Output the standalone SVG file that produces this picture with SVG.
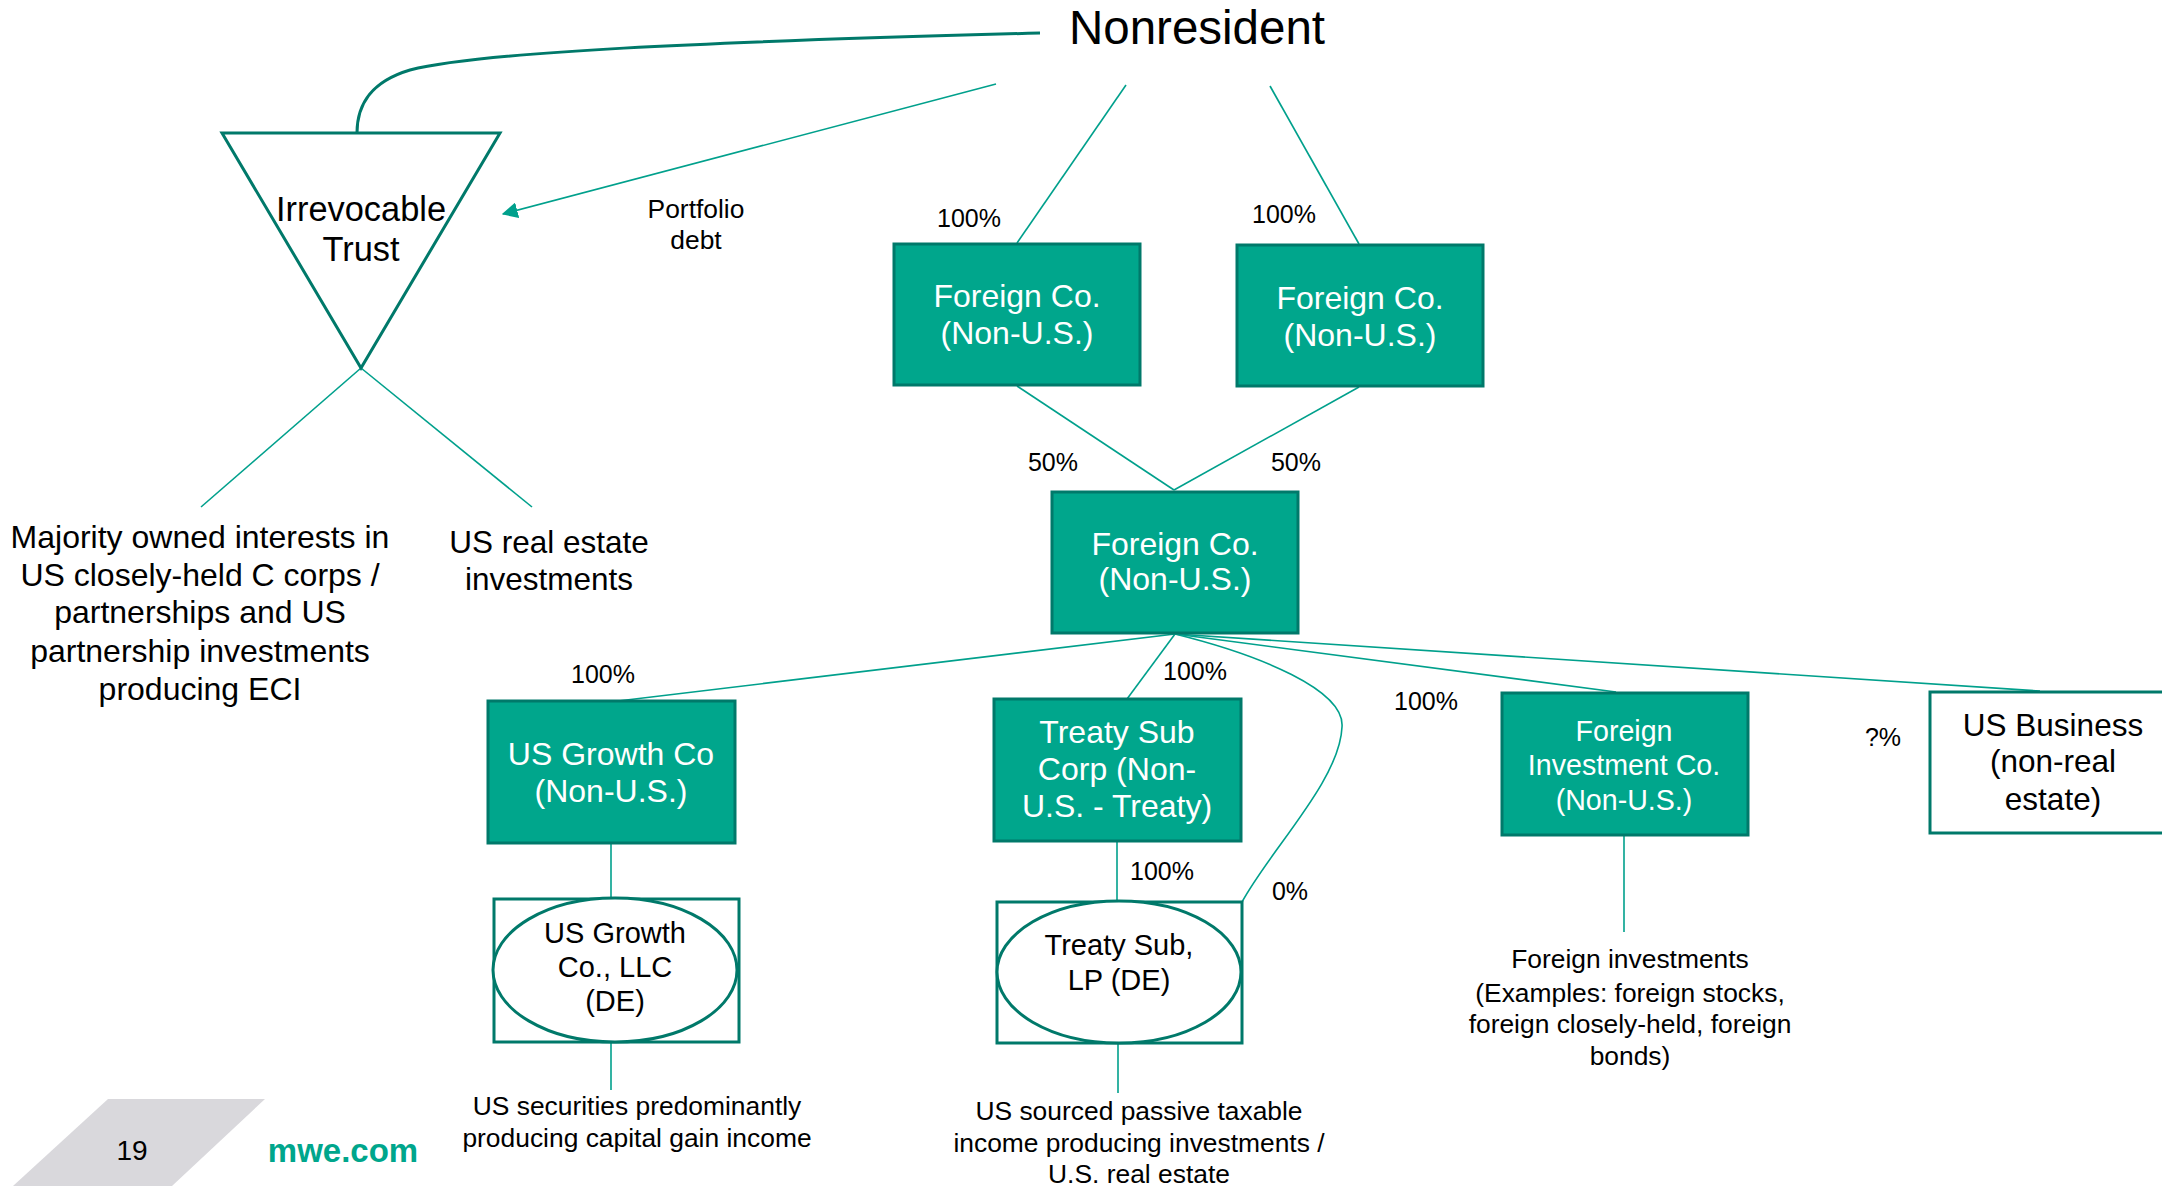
<svg xmlns="http://www.w3.org/2000/svg" width="2162" height="1186" viewBox="0 0 2162 1186">
<style>
text{font-family:"Liberation Sans",Arial,sans-serif;text-anchor:middle;fill:#000}
.box{fill:#00A68C;stroke:#00796A;stroke-width:3}
.wbox{fill:#fff;stroke:#00796A;stroke-width:3}
.ell{fill:#fff;stroke:#00796A;stroke-width:3}
.wt{fill:#fff;font-size:32px}
.bt{font-size:31.5px}
.et{font-size:29px}
.lbl{font-size:25px}
.sm{font-size:26.4px}
.ln{fill:none;stroke:#00A08C;stroke-width:1.6}
.thick{fill:none;stroke:#00796A;stroke-width:3}
</style>
<defs>
<marker id="arrow" viewBox="0 0 12 12" refX="11" refY="6" markerWidth="16" markerHeight="16" orient="auto" markerUnits="userSpaceOnUse">
<path d="M0,0 L12,6 L0,12 z" fill="#00A08C"/>
</marker>
</defs>

<g id="connectors">
<path class="thick" d="M1040,33 C700,42 480,52 410,70 C370,82 357,105 357,133"/>
<line class="ln" x1="996" y1="84" x2="503" y2="214" marker-end="url(#arrow)"/>
<line class="ln" x1="1126" y1="85" x2="1017" y2="243"/>
<line class="ln" x1="1270" y1="86" x2="1359" y2="244"/>
<line class="ln" x1="1017" y1="386" x2="1174" y2="490"/>
<line class="ln" x1="1359" y1="387" x2="1174" y2="490"/>
<line class="ln" x1="361" y1="368" x2="201" y2="507"/>
<line class="ln" x1="361" y1="368" x2="532" y2="507"/>
<line class="ln" x1="1175" y1="634" x2="618" y2="701"/>
<line class="ln" x1="1175" y1="634" x2="1127" y2="699"/>
<line class="ln" x1="1175" y1="634" x2="1616" y2="692"/>
<line class="ln" x1="1175" y1="634" x2="2040" y2="691"/>
<path class="ln" d="M1175,634 C1260,655 1345,690 1342,727 C1340,780 1270,850 1242,902"/>
<line class="ln" x1="611" y1="843" x2="611" y2="899"/>
<line class="ln" x1="1117" y1="841" x2="1117" y2="902"/>
<line class="ln" x1="1624" y1="835" x2="1624" y2="932"/>
<line class="ln" x1="611" y1="1043" x2="611" y2="1090"/>
<line class="ln" x1="1118" y1="1044" x2="1118" y2="1093"/>
</g>

<g id="nonresident">
<text x="1197" y="44" style="font-size:47.5px">Nonresident</text>
</g>

<g id="trust">
<polygon points="222,133 500,133 361,368" fill="#fff" stroke="#00796A" stroke-width="3"/>
<text x="361" y="221" style="font-size:34.4px">Irrevocable</text>
<text x="361" y="261" style="font-size:34.4px">Trust</text>
</g>

<g id="portfolio-debt">
<text class="sm" x="696" y="218">Portfolio</text>
<text class="sm" x="696" y="249">debt</text>
</g>

<g id="labels">
<text class="lbl" x="969" y="227">100%</text>
<text class="lbl" x="1284" y="223">100%</text>
<text class="lbl" x="1053" y="471">50%</text>
<text class="lbl" x="1296" y="471">50%</text>
<text class="lbl" x="603" y="683">100%</text>
<text class="lbl" x="1195" y="680">100%</text>
<text class="lbl" x="1426" y="710">100%</text>
<text class="lbl" x="1883" y="746">?%</text>
<text class="lbl" x="1162" y="880">100%</text>
<text class="lbl" x="1290" y="900">0%</text>
</g>

<g id="foreign-co-1">
<rect class="box" x="894" y="244" width="246" height="141"/>
<text class="wt" x="1017" y="307">Foreign Co.</text>
<text class="wt" x="1017" y="344">(Non-U.S.)</text>
</g>

<g id="foreign-co-2">
<rect class="box" x="1237" y="245" width="246" height="141"/>
<text class="wt" x="1360" y="309">Foreign Co.</text>
<text class="wt" x="1360" y="346">(Non-U.S.)</text>
</g>

<g id="foreign-co-mid">
<rect class="box" x="1052" y="492" width="246" height="141"/>
<text class="wt" x="1175" y="555">Foreign Co.</text>
<text class="wt" x="1175" y="590">(Non-U.S.)</text>
</g>

<g id="us-growth-co">
<rect class="box" x="488" y="701" width="247" height="142"/>
<text class="wt" x="611" y="765">US Growth Co</text>
<text class="wt" x="611" y="802">(Non-U.S.)</text>
</g>

<g id="treaty-sub-corp">
<rect class="box" x="994" y="699" width="247" height="142"/>
<text class="wt" x="1117" y="743">Treaty Sub</text>
<text class="wt" x="1117" y="780">Corp (Non-</text>
<text class="wt" x="1117" y="817">U.S. - Treaty)</text>
</g>

<g id="foreign-investment-co">
<rect class="box" x="1502" y="693" width="246" height="142"/>
<text class="wt" x="1624" y="741" style="font-size:28.6px">Foreign</text>
<text class="wt" x="1624" y="775" style="font-size:28.6px">Investment Co.</text>
<text class="wt" x="1624" y="810" style="font-size:28.6px">(Non-U.S.)</text>
</g>

<g id="us-business">
<rect class="wbox" x="1930" y="692" width="240" height="141"/>
<text class="bt" x="2053" y="736">US Business</text>
<text class="bt" x="2053" y="772">(non-real</text>
<text class="bt" x="2053" y="810">estate)</text>
</g>

<g id="us-growth-llc">
<rect class="wbox" x="494" y="899" width="245" height="143"/>
<ellipse class="ell" cx="615" cy="970" rx="122" ry="72"/>
<text class="et" x="615" y="943">US Growth</text>
<text class="et" x="615" y="977">Co., LLC</text>
<text class="et" x="615" y="1011">(DE)</text>
</g>

<g id="treaty-sub-lp">
<rect class="wbox" x="997" y="902" width="245" height="141"/>
<ellipse class="ell" cx="1119" cy="972" rx="122" ry="71"/>
<text class="et" x="1119" y="955">Treaty Sub,</text>
<text class="et" x="1119" y="990">LP (DE)</text>
</g>

<g id="majority-owned">
<text x="200" y="548" style="font-size:32px">Majority owned interests in</text>
<text x="200" y="586" style="font-size:32px">US closely-held C corps /</text>
<text x="200" y="623" style="font-size:32px">partnerships and US</text>
<text x="200" y="662" style="font-size:32px">partnership investments</text>
<text x="200" y="700" style="font-size:32px">producing ECI</text>
</g>

<g id="us-real-estate">
<text class="bt" x="549" y="553">US real estate</text>
<text class="bt" x="549" y="590">investments</text>
</g>

<g id="us-securities">
<text class="sm" x="637" y="1115">US securities predominantly</text>
<text class="sm" x="637" y="1147">producing capital gain income</text>
</g>

<g id="us-sourced">
<text class="sm" x="1139" y="1120">US sourced passive taxable</text>
<text class="sm" x="1139" y="1152">income producing investments /</text>
<text class="sm" x="1139" y="1183">U.S. real estate</text>
</g>

<g id="foreign-investments">
<text class="sm" x="1630" y="968">Foreign investments</text>
<text class="sm" x="1630" y="1002">(Examples: foreign stocks,</text>
<text class="sm" x="1630" y="1033">foreign closely-held, foreign</text>
<text class="sm" x="1630" y="1065">bonds)</text>
</g>

<g id="footer">
<polygon points="108,1099 265,1099 172,1186 13,1186" fill="#D9D8DC"/>
<text x="132" y="1160" style="font-size:28px">19</text>
<text x="343" y="1162" style="font-size:33px;font-weight:bold;fill:#00A68C">mwe.com</text>
</g>
</svg>
